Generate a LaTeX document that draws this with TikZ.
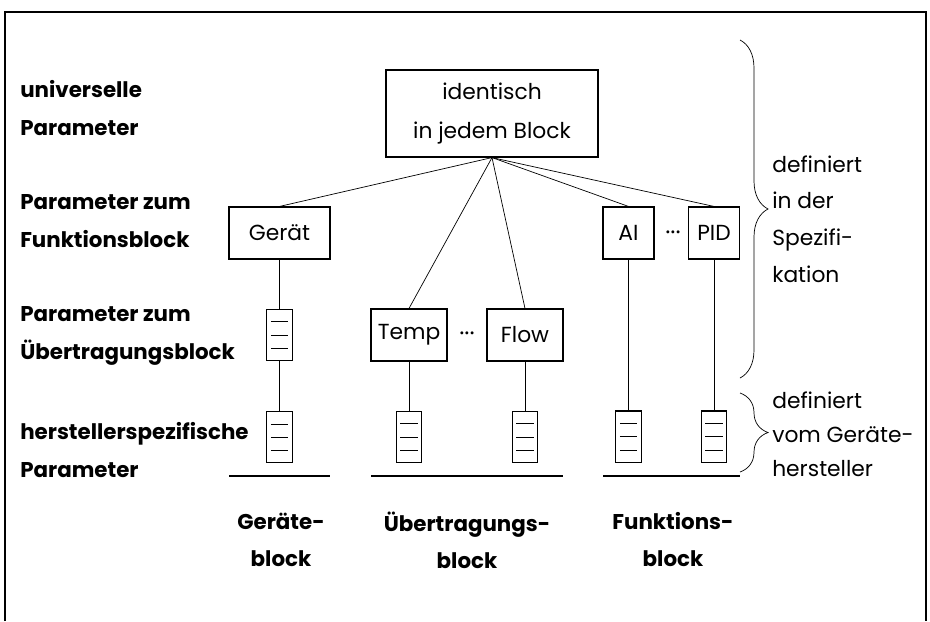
\documentclass[tikz,border=0pt]{standalone}
\usepackage{fontspec}
\setmainfont{Poppins}
\usetikzlibrary{positioning, decorations.pathreplacing}

\begin{document}
\begin{tikzpicture}
    [
        x=0.025cm, y=-0.025cm,
        node distance=2.55cm, auto,
        box/.style={draw, line width=0.8pt, minimum height=1.3cm, inner sep=0pt, font=\fontsize{15.5}{17}\selectfont},
        stack/.style={draw, line width=0.8pt, minimum width=0.63cm, minimum height=1.28cm, inner sep=0pt,
            path picture={
                \foreach \dy in {-0.33cm, 0cm, 0.33cm}
                    \draw[line width=0.5pt] ([xshift=0.1cm, yshift=\dy]path picture bounding box.west)
                        -- ([xshift=-0.1cm, yshift=\dy]path picture bounding box.east);
            }},
        param/.style={anchor=west, align=left, inner sep=0pt, font=\bfseries\fontsize{15.2}{26.7}\selectfont},
        blockname/.style={align=center, inner sep=0pt, font=\bfseries\fontsize{15.2}{26.3}\selectfont},
        note/.style={anchor=west, align=left, inner sep=0pt, font=\fontsize{15.5}{26}\selectfont},
        dots/.style={inner sep=0pt, font=\fontsize{17}{17}\selectfont}
    ]
    \tikzstyle{line} = [draw, line width=0.5pt]
    \tikzstyle{base} = [draw, line width=1.2pt]
    \tikzstyle{curly} = [draw, line width=0.5pt, decorate, decoration={brace, amplitude=0.7cm}]

    \useasboundingbox (0,0) rectangle (930,621);
    \draw[line width=0.9pt] (5,621) -- (5,12) -- (926,12) -- (926,621);

    % universelle Parameter
    \node[draw, line width=0.8pt, minimum width=5.3cm, minimum height=2.175cm, align=center,
        font=\fontsize{15.5}{27.7}\selectfont] (top) at (492,113.5) {identisch\\in jedem Block};

    % Geraeteblock
    \begin{scope}
        \node[box, minimum width=2.525cm] (geraet) at (279.5,233) {Gerät};
        \node[stack, below of=geraet] (geraet_ue) {};
        \node[stack, below of=geraet_ue] (geraet_hs) {};

        \path[line] (top.south) -- (geraet.north);
        \path[line] (geraet) edge (geraet_ue);
        \path[line] (geraet_ue) edge (geraet_hs);

        \draw[base] (229,476) -- (330,476);
        \node[blockname] (geraet_name) at (281,540) {Geräte-\\block};
    \end{scope}

    % Uebertragungsblock
    \begin{scope}
        \node[box, minimum width=1.9cm] (temp) at (409,335) {Temp};
        \node[box, minimum width=1.9cm] (flow) at (525,335) {Flow};
        \node[dots] (ue_dots) at (467,337) {···};
        \node[stack, below of=temp] (temp_hs) {};
        \node[stack, below of=flow] (flow_hs) {};

        \path[line] (top.south) -- (temp.north);
        \path[line] (top.south) -- (flow.north);
        \path[line] (temp) edge (temp_hs);
        \path[line] (flow) edge (flow_hs);

        \draw[base] (371,476) -- (563,476);
        \node[blockname] (ue_name) at (467,540) {Übertragungs-\\block};
    \end{scope}

    % Funktionsblock
    \begin{scope}
        \node[box, minimum width=1.275cm] (ai) at (628.5,233) {AI};
        \node[box, minimum width=1.275cm] (pid) at (714,233) {PID};
        \node[dots] (fb_dots) at (673,236) {···};
        \node[stack, below of=ai, node distance=5.09cm] (ai_hs) {};
        \node[stack, below of=pid, node distance=5.09cm] (pid_hs) {};

        \path[line] (top.south) -- (ai.north);
        \path[line] (top.south) -- (pid.north);
        \path[line] (ai) edge (ai_hs);
        \path[line] (pid) edge (pid_hs);

        \draw[base] (603,476) -- (740,476);
        \node[blockname] (fb_name) at (673,540) {Funktions-\\block};
    \end{scope}

    % Ebenen links
    \node[param] (p_univ) at (20,108) {universelle\\Parameter};
    \node[param] (p_fb) at (20,221) {Parameter zum\\Funktionsblock};
    \node[param] (p_ue) at (20,336) {Parameter zum\\Übertragungsblock};
    \node[param] (p_hs) at (20,450) {herstellerspezifische\\Parameter};

    % Klammern rechts
    \coordinate (spec_a) at (740,40);
    \coordinate (spec_b) at (740,378);
    \coordinate (hs_a) at (740,393);
    \coordinate (hs_b) at (740,472);
    \path[curly] (spec_a) -- (spec_b);
    \path[curly] (hs_a) -- (hs_b);
    \node[note] (spec_note) at (772,219) {definiert\\in der\\Spezifi-\\kation};
    \node[note, font=\fontsize{15.5}{24.2}\selectfont] (hs_note) at (772,434) {definiert\\vom Geräte-\\hersteller};

\end{tikzpicture}
\end{document}
